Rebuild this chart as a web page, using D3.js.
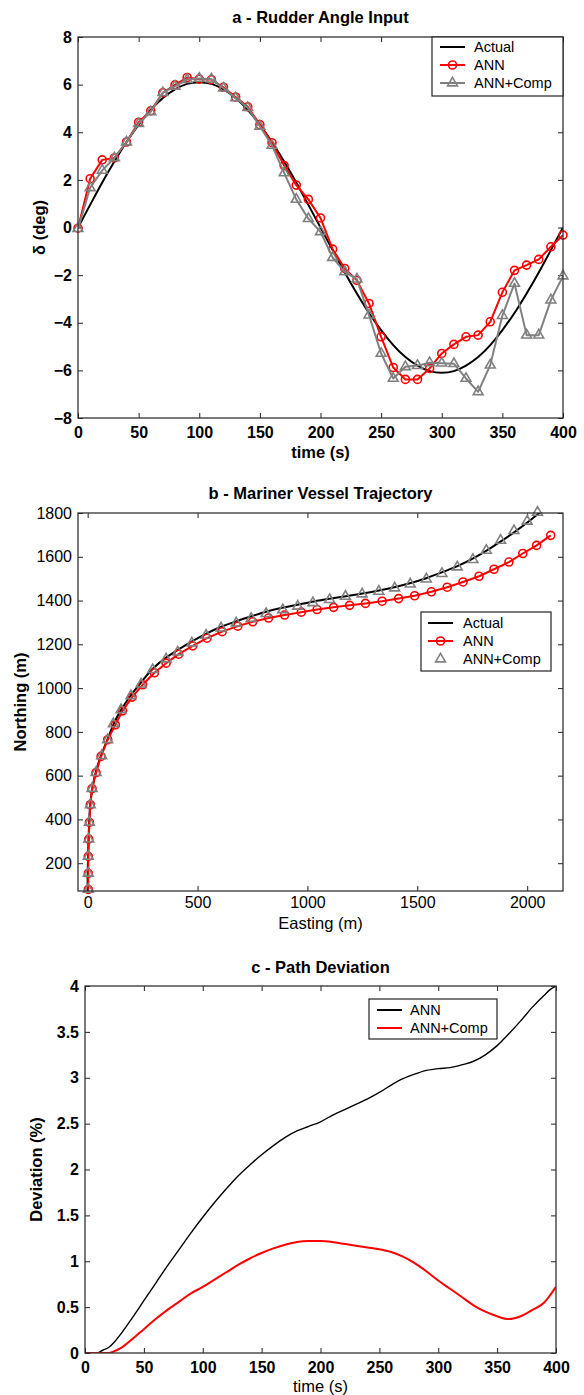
<!DOCTYPE html>
<html><head><meta charset="utf-8">
<script src="https://cdn.jsdelivr.net/npm/d3@7/dist/d3.min.js"></script>
<style>
body{margin:0;background:#fff}
text{font-family:"Liberation Sans",Arial,Helvetica,sans-serif;fill:#000}
</style>
</head><body>
<svg id="chart" width="584" height="1395"></svg>
<script>
// ---------- Panel a: Rudder angle input ----------
const rudderTime = [0,10,20,30,40,50,60,70,80,90,100,110,120,130,140,150,160,170,180,190,200,
  210,220,230,240,250,260,270,280,290,300,310,320,330,340,350,360,370,380,390,400];
const rudderActual = [0,0.95,1.89,2.77,3.59,4.31,4.94,5.44,5.80,6.03,6.10,6.03,5.80,5.44,4.94,4.31,3.59,2.77,1.89,0.95,0.0,
  -0.95,-1.89,-2.77,-3.59,-4.31,-4.94,-5.44,-5.80,-6.03,-6.10,-6.03,-5.80,-5.44,-4.94,-4.31,-3.59,-2.77,-1.89,-0.95,0.0];
const rudderANN = [-0.03,2.05,2.84,2.92,3.59,4.42,4.90,5.66,5.99,6.30,6.23,6.21,5.89,5.48,5.07,4.32,3.56,2.60,1.78,1.18,0.40,
  -0.91,-1.72,-2.22,-3.19,-4.59,-5.88,-6.38,-6.38,-5.92,-5.29,-4.91,-4.59,-4.52,-3.96,-2.72,-1.80,-1.58,-1.34,-0.81,-0.32];
const rudderComp = [-0.05,1.67,2.40,2.92,3.59,4.36,4.86,5.66,5.93,6.21,6.26,6.23,5.85,5.44,5.03,4.25,3.45,2.29,1.18,0.37,-0.18,
  -1.26,-1.86,-2.17,-3.68,-5.29,-6.34,-5.85,-5.80,-5.68,-5.70,-5.72,-6.34,-6.90,-5.78,-3.70,-2.35,-4.52,-4.52,-3.05,-2.04];
const rudderXTicks = [0,50,100,150,200,250,300,350,400];
const rudderYTicks = [-8,-6,-4,-2,0,2,4,6,8];

// ---------- Panel b: Mariner vessel trajectory ----------
const trajActualE = [0,0,2,4,7,12,22,38,62,92,120,155,195,240,295,355,410,475,540,605,675,745,815,890,960,1030,1100,1175,1250,1325,1400,1470,1540,1610,1680,1750,1815,1880,1945,2005,2065];
const trajActualN = [73,150,230,310,390,470,545,620,695,770,840,905,965,1022,1087,1138,1175,1214,1249,1279,1305,1328,1350,1368,1382,1396,1408,1420,1432,1446,1462,1480,1502,1528,1556,1590,1628,1670,1715,1760,1808];
const trajAnnE = [3,3,3,5,8,12,20,38,61,91,126,159,202,250,304,357,414,478,543,612,683,751,823,896,972,1044,1119,1192,1264,1340,1415,1488,1564,1636,1708,1781,1849,1917,1980,2043,2107];
const trajAnnN = [80,154,231,310,387,467,541,614,688,764,832,896,959,1015,1070,1114,1155,1193,1228,1258,1283,1303,1320,1334,1347,1359,1369,1378,1387,1397,1409,1422,1440,1461,1485,1511,1543,1576,1615,1652,1698];
const trajCompE = [3,3,3,5,8,12,20,38,64,91,117,152,197,243,296,357,410,474,539,607,676,744,812,888,956,1025,1101,1173,1249,1325,1397,1468,1541,1612,1682,1753,1814,1879,1940,2000,2047];
const trajCompN = [80,154,231,310,387,467,541,614,691,764,837,901,965,1018,1084,1133,1165,1206,1241,1274,1297,1318,1340,1358,1374,1390,1404,1419,1430,1442,1457,1475,1498,1523,1553,1587,1629,1675,1719,1762,1803];
const trajXTicks = [0,500,1000,1500,2000];
const trajYTicks = [200,400,600,800,1000,1200,1400,1600,1800];

// ---------- Panel c: Path deviation ----------
const devTime = [0,10,15,20,25,30,40,50,60,70,80,90,100,110,120,130,140,150,160,170,180,190,200,
  210,220,230,240,250,260,270,280,290,300,310,320,330,340,350,360,370,380,390,395,400];
const devANN = [0,0,0.03,0.06,0.12,0.2,0.38,0.57,0.76,0.95,1.13,1.31,1.48,1.64,1.79,1.93,2.05,2.16,2.26,2.35,2.42,2.47,2.52,
  2.59,2.65,2.71,2.77,2.84,2.92,2.99,3.04,3.08,3.10,3.11,3.14,3.18,3.25,3.35,3.48,3.62,3.77,3.90,3.96,4.0];
const devComp = [0,0,0,0,0.02,0.05,0.15,0.26,0.37,0.47,0.56,0.65,0.72,0.80,0.88,0.96,1.03,1.09,1.14,1.18,1.21,1.22,1.22,
  1.21,1.19,1.17,1.15,1.13,1.10,1.05,0.98,0.89,0.79,0.70,0.61,0.52,0.45,0.40,0.37,0.40,0.47,0.55,0.63,0.72];
const devXTicks = [0,50,100,150,200,250,300,350,400];
const devYTicks = [0,0.5,1,1.5,2,2.5,3,3.5,4];

const RED = "#ff0000", GRAY = "#808080", BLACK = "#000000";
const svg = d3.select("#chart");
const defs = svg.append("defs");

function makePanel(cfg) {
  const g = svg.append("g").attr("transform", `translate(${cfg.left},${cfg.top})`);
  const x = d3.scaleLinear().domain(cfg.xDomain).range([0, cfg.w]);
  const y = d3.scaleLinear().domain(cfg.yDomain).range([cfg.h, 0]);
  const clipId = "clip" + cfg.id;
  defs.append("clipPath").attr("id", clipId).append("rect")
    .attr("x", 0).attr("y", 0).attr("width", cfg.w).attr("height", cfg.h);

  const tickW = cfg.boldTicks ? "bold" : "normal";
  const styleAxis = sel => {
    sel.select(".domain").remove();
    sel.selectAll(".tick line").attr("stroke", "#222").attr("stroke-width", 1);
    sel.selectAll(".tick text").attr("font-size", 16).attr("font-weight", tickW).attr("fill", "#000");
  };
  g.append("g").attr("transform", `translate(0,${cfg.h})`)
    .call(d3.axisBottom(x).tickValues(cfg.xTicks).tickSizeInner(-5).tickSizeOuter(0).tickPadding(cfg.xPad).tickFormat(d3.format("d")))
    .call(styleAxis);
  g.append("g")
    .call(d3.axisTop(x).tickValues(cfg.xTicks).tickSizeInner(-5).tickSizeOuter(0).tickFormat(""))
    .call(styleAxis);
  g.append("g")
    .call(d3.axisLeft(y).tickValues(cfg.yTicks).tickSizeInner(-5).tickSizeOuter(0).tickPadding(6).tickFormat(cfg.yFormat))
    .call(styleAxis);
  g.append("g").attr("transform", `translate(${cfg.w},0)`)
    .call(d3.axisRight(y).tickValues(cfg.yTicks).tickSizeInner(-5).tickSizeOuter(0).tickFormat(""))
    .call(styleAxis);

  const plot = g.append("g");
  g.append("rect").attr("x", 0).attr("y", 0).attr("width", cfg.w).attr("height", cfg.h)
    .attr("fill", "none").attr("stroke", "#333").attr("stroke-width", 1.3);

  svg.append("text").attr("x", cfg.left + cfg.w / 2).attr("y", cfg.titleY)
    .attr("text-anchor", "middle").attr("font-size", 16.5).attr("font-weight", "bold").text(cfg.title);
  svg.append("text").attr("x", cfg.left + cfg.w / 2).attr("y", cfg.xLabelY)
    .attr("text-anchor", "middle").attr("font-size", 16.5).attr("font-weight", cfg.xLabelWeight).text(cfg.xLabel);
  svg.append("text").attr("transform", `translate(${cfg.yLabelX},${cfg.top + cfg.h / 2}) rotate(-90)`)
    .attr("text-anchor", "middle").attr("font-size", 16.5).attr("font-weight", "bold").text(cfg.yLabel);

  return {g, plot, x, y, clipId};
}

function drawLine(p, xs, ys, color, width, curve) {
  const data = xs.map((d, i) => [d, ys[i]]);
  p.plot.append("path").datum(data)
    .attr("clip-path", `url(#${p.clipId})`)
    .attr("fill", "none").attr("stroke", color).attr("stroke-width", width)
    .attr("stroke-linejoin", "round")
    .attr("d", d3.line().x(d => p.x(d[0])).y(d => p.y(d[1])).curve(curve || d3.curveLinear));
}
function drawCircles(p, xs, ys, color) {
  p.plot.append("g").selectAll("circle").data(xs.map((d, i) => [d, ys[i]])).join("circle")
    .attr("cx", d => p.x(d[0])).attr("cy", d => p.y(d[1])).attr("r", 4)
    .attr("fill", "none").attr("stroke", color).attr("stroke-width", 1.6);
}
function drawTriangles(p, xs, ys, color) {
  const sym = d3.symbol(d3.symbolTriangle, 42);
  p.plot.append("g").selectAll("path").data(xs.map((d, i) => [d, ys[i]])).join("path")
    .attr("transform", d => `translate(${p.x(d[0])},${p.y(d[1])})`)
    .attr("d", sym).attr("fill", "none").attr("stroke", color).attr("stroke-width", 1.6);
}

function legend(cfg) {
  const g = svg.append("g");
  g.append("rect").attr("x", cfg.x).attr("y", cfg.y).attr("width", cfg.w).attr("height", cfg.h)
    .attr("fill", "#fff").attr("stroke", "#222").attr("stroke-width", 1.2);
  cfg.items.forEach((it, i) => {
    const cy = cfg.y + cfg.first + i * cfg.step;
    const x1 = cfg.x + cfg.lx1, x2 = cfg.x + cfg.lx2, mx = (x1 + x2) / 2;
    if (it.line) g.append("line").attr("x1", x1).attr("x2", x2).attr("y1", cy).attr("y2", cy)
      .attr("stroke", it.color).attr("stroke-width", it.width || 2);
    if (it.marker === "o") g.append("circle").attr("cx", mx).attr("cy", cy).attr("r", 4)
      .attr("fill", "none").attr("stroke", it.color).attr("stroke-width", 1.6);
    if (it.marker === "^") g.append("path").attr("transform", `translate(${mx},${cy})`)
      .attr("d", d3.symbol(d3.symbolTriangle, 42)).attr("fill", "none").attr("stroke", it.color).attr("stroke-width", 1.6);
    g.append("text").attr("x", cfg.x + cfg.tx).attr("y", cy + 5).attr("font-size", 14.5).text(it.label);
  });
}

// ---- Panel a ----
const pa = makePanel({id: "a", left: 78, top: 37, w: 485, h: 381,
  xDomain: [0, 400], yDomain: [-8, 8], xTicks: rudderXTicks, yTicks: rudderYTicks,
  yFormat: d3.format("d"), boldTicks: true, xPad: 9,
  title: "a - Rudder Angle Input", titleY: 23, xLabel: "time (s)", xLabelY: 458, xLabelWeight: "bold",
  yLabel: "δ (deg)", yLabelX: 45});
drawLine(pa, rudderTime, rudderActual, BLACK, 2, d3.curveNatural);
drawLine(pa, rudderTime, rudderANN, RED, 2);
drawCircles(pa, rudderTime, rudderANN, RED);
drawLine(pa, rudderTime, rudderComp, GRAY, 2);
drawTriangles(pa, rudderTime, rudderComp, GRAY);
legend({x: 432, y: 37, w: 131, h: 59, first: 10, step: 18, lx1: 8, lx2: 33, tx: 42,
  items: [{label: "Actual", color: BLACK, line: true}, {label: "ANN", color: RED, line: true, marker: "o"},
          {label: "ANN+Comp", color: GRAY, line: true, marker: "^"}]});

// ---- Panel b ----
const pb = makePanel({id: "b", left: 78, top: 513, w: 485, h: 378,
  xDomain: [-44, 2163], yDomain: [73, 1800], xTicks: trajXTicks, yTicks: trajYTicks,
  yFormat: d3.format("d"), boldTicks: false, xPad: 6,
  title: "b - Mariner Vessel Trajectory", titleY: 499, xLabel: "Easting (m)", xLabelY: 929, xLabelWeight: "normal",
  yLabel: "Northing (m)", yLabelX: 26});
drawLine(pb, trajActualE, trajActualN, BLACK, 2, d3.curveNatural);
drawLine(pb, trajAnnE, trajAnnN, RED, 2);
drawCircles(pb, trajAnnE, trajAnnN, RED);
drawTriangles(pb, trajCompE, trajCompN, GRAY);
legend({x: 421, y: 612, w: 130, h: 59, first: 11, step: 18, lx1: 7, lx2: 32, tx: 42,
  items: [{label: "Actual", color: BLACK, line: true}, {label: "ANN", color: RED, line: true, marker: "o"},
          {label: "ANN+Comp", color: GRAY, line: false, marker: "^"}]});

// ---- Panel c ----
const pc = makePanel({id: "c", left: 85, top: 986, w: 471, h: 367,
  xDomain: [0, 400], yDomain: [0, 4], xTicks: devXTicks, yTicks: devYTicks,
  yFormat: d => d3.format("")(d), boldTicks: true, xPad: 9,
  title: "c - Path Deviation", titleY: 973, xLabel: "time (s)", xLabelY: 1392, xLabelWeight: "normal",
  yLabel: "Deviation (%)", yLabelX: 42});
drawLine(pc, devTime, devANN, BLACK, 1.4, d3.curveMonotoneX);
drawLine(pc, devTime, devComp, RED, 2, d3.curveMonotoneX);
legend({x: 369, y: 999, w: 128, h: 40, first: 11, step: 18, lx1: 8, lx2: 33, tx: 41,
  items: [{label: "ANN", color: BLACK, line: true, width: 2}, {label: "ANN+Comp", color: RED, line: true, width: 2}]});
</script>
</body></html>
